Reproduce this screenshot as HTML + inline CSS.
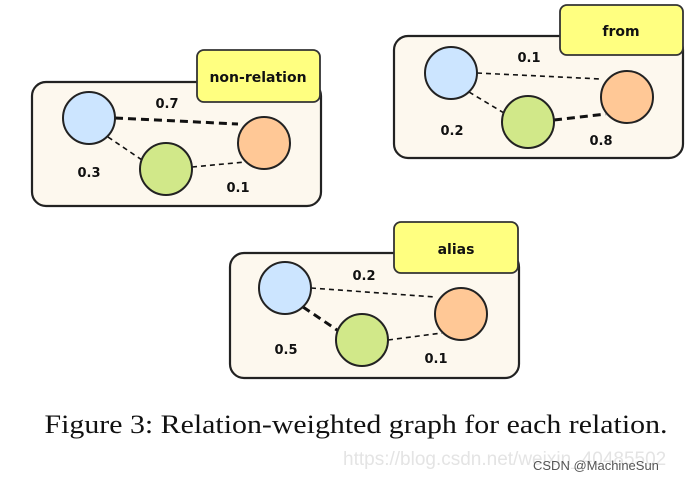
<!DOCTYPE html>
<html><head><meta charset="utf-8"><style>
body{margin:0;background:#fff;width:695px;height:478px;overflow:hidden}
</style></head><body>
<svg width="695" height="478" xmlns="http://www.w3.org/2000/svg">
<defs><style>
.box{fill:#fdf8ee;stroke:#222;stroke-width:2.2}
.lab{fill:#ffff80;stroke:#333;stroke-width:1.8}
.lt{font-family:"DejaVu Sans",sans-serif;font-weight:bold;font-size:14px;fill:#111}
.w{font-family:"DejaVu Sans",sans-serif;font-weight:bold;font-size:13px;fill:#111}
.b{fill:#cce5ff;stroke:#222;stroke-width:2}
.g{fill:#d1e889;stroke:#222;stroke-width:2}
.o{fill:#ffc896;stroke:#222;stroke-width:2}
.e1{stroke:#111;stroke-width:1.6;stroke-dasharray:5,4}
.e2{stroke:#111;stroke-width:3;stroke-dasharray:8,5}
</style></defs>
<!-- panel 1 -->
<rect class="box" x="32" y="82" width="289" height="124" rx="14"/>
<rect class="lab" x="197" y="50" width="123" height="52" rx="7"/>
<text class="lt" x="258" y="82" text-anchor="middle">non-relation</text>
<line class="e2" x1="115" y1="118" x2="238" y2="124"/>
<line class="e1" x1="108" y1="137" x2="142" y2="160"/>
<line class="e1" x1="192" y1="167" x2="245" y2="162"/>
<circle class="b" cx="89" cy="118" r="26"/>
<circle class="g" cx="166" cy="169" r="26"/>
<circle class="o" cx="264" cy="143" r="26"/>
<text class="w" x="167" y="108" text-anchor="middle">0.7</text>
<text class="w" x="89" y="177" text-anchor="middle">0.3</text>
<text class="w" x="238" y="192" text-anchor="middle">0.1</text>
<!-- panel 2 -->
<rect class="box" x="394" y="36" width="289" height="122" rx="14"/>
<rect class="lab" x="560" y="5" width="123" height="50" rx="7"/>
<text class="lt" x="621" y="36" text-anchor="middle">from</text>
<line class="e1" x1="477" y1="73" x2="601" y2="79"/>
<line class="e1" x1="469" y1="92" x2="504" y2="113"/>
<line class="e2" x1="554" y1="120" x2="606" y2="114"/>
<circle class="b" cx="451" cy="73" r="26"/>
<circle class="g" cx="528" cy="122" r="26"/>
<circle class="o" cx="627" cy="97" r="26"/>
<text class="w" x="529" y="62" text-anchor="middle">0.1</text>
<text class="w" x="452" y="135" text-anchor="middle">0.2</text>
<text class="w" x="601" y="145" text-anchor="middle">0.8</text>
<!-- panel 3 -->
<rect class="box" x="230" y="253" width="289" height="125" rx="14"/>
<rect class="lab" x="394" y="222" width="124" height="51" rx="7"/>
<text class="lt" x="456" y="254" text-anchor="middle">alias</text>
<line class="e1" x1="311" y1="288" x2="435" y2="297"/>
<line class="e2" x1="303" y1="307" x2="340" y2="332"/>
<line class="e1" x1="388" y1="340" x2="442" y2="333"/>
<circle class="b" cx="285" cy="288" r="26"/>
<circle class="g" cx="362" cy="340" r="26"/>
<circle class="o" cx="461" cy="314" r="26"/>
<text class="w" x="364" y="280" text-anchor="middle">0.2</text>
<text class="w" x="286" y="354" text-anchor="middle">0.5</text>
<text class="w" x="436" y="363" text-anchor="middle">0.1</text>
<!-- caption -->
<text x="356" y="433" text-anchor="middle" font-family="Liberation Serif,serif" font-size="26" fill="#111" textLength="623" lengthAdjust="spacingAndGlyphs">Figure 3: Relation-weighted graph for each relation.</text>
<text x="343" y="465" font-family="Liberation Sans,sans-serif" font-size="19" fill="#e4e4e4">https://blog.csdn.net/weixin_40485502</text>
<text x="533" y="470" font-family="Liberation Sans,sans-serif" font-size="13" fill="#555">CSDN @MachineSun</text>
</svg>
</body></html>
